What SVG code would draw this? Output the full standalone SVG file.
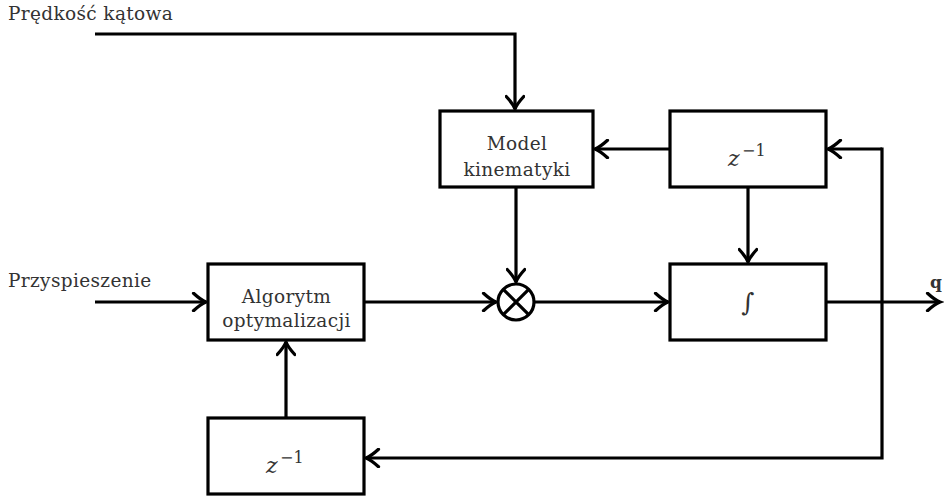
<svg xmlns="http://www.w3.org/2000/svg" width="948" height="498" viewBox="0 0 948 498">
<defs>
<style>
.box{fill:#fff;stroke:#000;stroke-width:3.2}
.ln{fill:none;stroke:#000;stroke-width:3.2}
text{font-family:'DejaVu Serif','Liberation Serif',serif;fill:#333}
.t{font-size:18.5px;letter-spacing:0.35px}
.c{text-anchor:middle}
.m{font-size:22px}
.s{font-size:16px}
</style>
<marker id="arr" markerUnits="userSpaceOnUse" markerWidth="20" markerHeight="20" viewBox="-12 -8 14 16" refX="0" refY="0" orient="auto">
<path d="M -10 -7 Q -4 -1.5 0 0 Q -4 1.5 -10 7" fill="none" stroke="#000" stroke-width="2.6" stroke-linecap="round"/>
</marker>
</defs>
<rect width="948" height="498" fill="#fff"/>
<text class="t" x="8" y="20">Prędkość kątowa</text>
<text class="t" x="8" y="287">Przyspieszenie</text>
<text x="930" y="288" font-size="17" font-weight="bold">q</text>
<g id="connectors">
<path class="ln" d="M95 34 H515 V109" marker-end="url(#arr)"/>
<path class="ln" d="M670 149 H595" marker-end="url(#arr)"/>
<path class="ln" d="M882 149 H828" marker-end="url(#arr)"/>
<path class="ln" d="M882 147.4 V458 H366" marker-end="url(#arr)"/>
<path class="ln" d="M516 187 V282" marker-end="url(#arr)"/>
<path class="ln" d="M748 187 V262" marker-end="url(#arr)"/>
<path class="ln" d="M95 302 H206" marker-end="url(#arr)"/>
<path class="ln" d="M364 302 H496" marker-end="url(#arr)"/>
<path class="ln" d="M535 302 H668" marker-end="url(#arr)"/>
<path class="ln" d="M826 302 H940" marker-end="url(#arr)"/>
<path class="ln" d="M286 418 V342" marker-end="url(#arr)"/>
</g>
<g id="model">
<rect class="box" x="440" y="111" width="153" height="76"/>
<text class="t c" x="517" y="150">Model</text>
<text class="t c" x="517" y="176">kinematyki</text>
</g>
<g id="delay-top">
<rect class="box" x="670" y="111" width="156" height="76"/>
<text class="m" x="728" y="166" font-style="italic">z</text>
<text class="s" x="742" y="156">−1</text>
</g>
<g id="algorithm">
<rect class="box" x="208" y="264" width="156" height="76"/>
<text class="t c" x="286.5" y="303">Algorytm</text>
<text class="t c" x="286.5" y="327">optymalizacji</text>
</g>
<g id="multiplier">
<circle cx="516" cy="302" r="18" fill="#fff" stroke="#000" stroke-width="3.2"/>
<path class="ln" d="M503.3 289.3 L528.7 314.7 M528.7 289.3 L503.3 314.7"/>
</g>
<g id="integrator">
<rect class="box" x="670" y="264" width="156" height="76"/>
<text x="748" y="311" font-size="25" text-anchor="middle" font-style="italic">∫</text>
</g>
<g id="delay-bottom">
<rect class="box" x="208" y="418" width="156" height="76"/>
<text class="m" x="266" y="473" font-style="italic">z</text>
<text class="s" x="280" y="463">−1</text>
</g>
</svg>
